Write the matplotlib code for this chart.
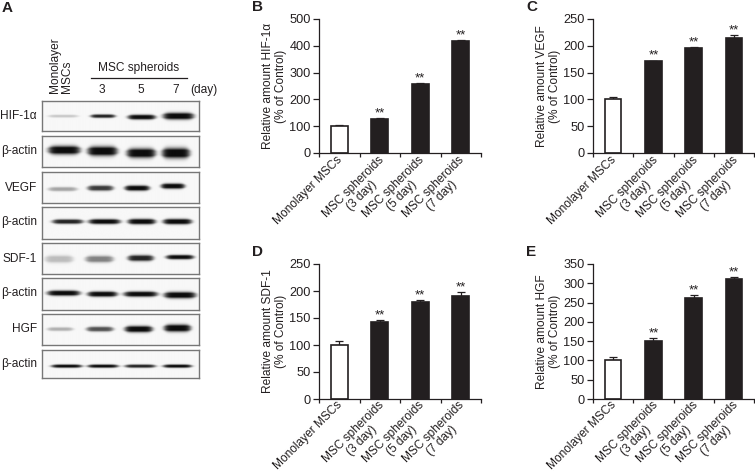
import numpy as np
import matplotlib
matplotlib.use("Agg")
import matplotlib.pyplot as plt

plt.rcParams['font.family'] = ['Liberation Sans', 'DejaVu Sans']

W, H = 755, 475
TEXT = '#231f20'
FS = 8.6

# blot panels: band extents are reference pixels, strength is 0-1 darkness
blot_labels = ['HIF-1α', 'β-actin', 'VEGF', 'β-actin', 'SDF-1', 'β-actin', 'HGF', 'β-actin']
blot_tops = [101, 136, 172, 207, 243, 278, 314, 350]
blot_bottoms = [131, 167, 203, 239, 274, 310, 345, 378]
label_y = [116, 151, 188, 222, 259, 293, 329, 364]
band_left = [[48, 90, 127, 162], [48, 87, 126, 161], [48, 87, 124, 160], [52, 88, 127, 162],
             [45, 85, 127, 165], [47, 87, 123, 163], [47, 86, 124, 163], [51, 87, 124, 162]]
band_right = [[78, 115, 155, 193], [80, 117, 155, 189], [77, 113, 149, 184], [83, 120, 155, 191],
              [73, 113, 153, 193], [80, 117, 157, 195], [73, 113, 152, 190], [82, 118, 155, 191]]
band_y = [[116, 116, 117, 116], [150, 151, 153, 153], [189, 188, 188, 186], [222, 222, 222, 222],
          [259, 259, 258, 257], [293, 294, 294, 295], [329, 329, 329, 328], [366, 366, 366, 366]]
band_thick = [[1.2, 1.5, 2.1, 3.0], [3.8, 4.2, 4.2, 4.6], [1.8, 2.3, 2.3, 2.3], [1.9, 2.1, 2.3, 2.3],
              [3.2, 2.9, 2.6, 1.9], [2.3, 2.3, 2.3, 2.8], [1.6, 2.1, 2.8, 3.2], [1.4, 1.4, 1.4, 1.4]]
band_strength = [[0.2, 0.9, 1.0, 1.0], [1.0, 1.0, 1.0, 1.0], [0.35, 0.8, 1.0, 1.0], [0.9, 1.0, 1.0, 1.0],
                 [0.25, 0.5, 0.9, 1.0], [1.0, 1.0, 1.0, 1.0], [0.3, 0.7, 1.0, 1.0], [1.0, 1.0, 0.9, 1.0]]
BLOT_LEFT, BLOT_RIGHT = 42, 199

# bar panels
categories = ['Monolayer MSCs', 'MSC spheroids\n(3 day)', 'MSC spheroids\n(5 day)', 'MSC spheroids\n(7 day)']
hif_values = [102, 128, 258, 418]
hif_err = [2, 3, 2, 3]
vegf_values = [101, 171, 195, 215]
vegf_err = [4, 1.5, 3, 5]
sdf_values = [100, 143, 180, 191]
sdf_err = [7, 4, 4, 7]
hgf_values = [100, 150, 263, 310]
hgf_err = [9, 7, 6, 6]
label_offsets = [17, 59, 99, 139]


def px_axes(fig, left, top, right, bottom):
    return fig.add_axes([left / W, 1 - bottom / H, (right - left) / W, (bottom - top) / H])


def draw_blot(fig, idx):
    top, bottom = blot_tops[idx], blot_bottoms[idx]
    ax = px_axes(fig, BLOT_LEFT, top, BLOT_RIGHT, bottom)
    xs = np.arange(BLOT_LEFT, BLOT_RIGHT, 0.25)
    ys = np.arange(top, bottom, 0.25)
    xx, yy = np.meshgrid(xs, ys)
    dark = np.zeros_like(xx)
    for x0, x1, y, th, s in zip(band_left[idx], band_right[idx], band_y[idx],
                                band_thick[idx], band_strength[idx]):
        cx = (x0 + x1) / 2
        half = (x1 - x0) / 2
        across = np.exp(-(np.abs(xx - cx) / half) ** 6)
        # bands are squashed towards the ends
        thick = th * (0.55 + 0.45 * across)
        dark += s * across * np.clip(1.5 * np.exp(-((yy - y) / thick) ** 2), 0, 1)
    img = 0.97 - 0.92 * np.clip(dark, 0, 1)
    ax.imshow(img, cmap='gray', vmin=0, vmax=1, aspect='auto', interpolation='bilinear',
              extent=[BLOT_LEFT, BLOT_RIGHT, bottom, top])
    ax.set_xticks([])
    ax.set_yticks([])
    for sp in ax.spines.values():
        sp.set_color('#777777')
        sp.set_linewidth(1.0)


def draw_bars(fig, box, values, err, ymax, step, name, label_top):
    ax = px_axes(fig, *box)
    centers = np.arange(len(values)) + 0.5
    colors = ['white', '#231f20', '#231f20', '#231f20']
    ax.bar(centers, values, width=0.41, color=colors, edgecolor='#231f20', linewidth=1.2, zorder=2)
    ax.errorbar(centers, values, yerr=[np.zeros(len(err)), err], fmt='none', ecolor='#231f20',
                elinewidth=0.9, capsize=3, capthick=0.9, zorder=1)
    for c, v, e in zip(centers[1:], values[1:], err[1:]):
        ax.annotate('**', (c, v + e), xytext=(0, -1), textcoords='offset points',
                    ha='center', va='bottom', fontsize=9.5, color=TEXT)
    ax.set_xlim(0, 4)
    ax.set_ylim(0, ymax)
    ax.set_xticks(range(5))
    ax.set_xticklabels([])
    ax.set_yticks(np.arange(0, ymax + 1, step))
    ax.tick_params(axis='y', labelsize=9.2, length=4, width=0.9, colors=TEXT, pad=2)
    ax.tick_params(axis='x', length=3, width=0.9, colors=TEXT)
    for s in ['top', 'right']:
        ax.spines[s].set_visible(False)
    for s in ['left', 'bottom']:
        ax.spines[s].set_color(TEXT)
        ax.spines[s].set_linewidth(0.9)
    ax.patch.set_alpha(0)
    ax.set_ylabel(f'Relative amount {name}\n(% of Control)', fontsize=FS, color=TEXT,
                  linespacing=1.05, labelpad=2)
    for off, cat in zip(label_offsets, categories):
        pg.text(box[0] + off, label_top, cat, rotation=45, rotation_mode='anchor', ha='right', va='top',
                multialignment='center', fontsize=FS, color=TEXT, linespacing=1.05)


fig = plt.figure(figsize=(W / 100, H / 100), dpi=100)
pg = fig.add_axes([0, 0, 1, 1])
pg.set_xlim(0, W)
pg.set_ylim(H, 0)
pg.axis('off')

for i in range(len(blot_labels)):
    draw_blot(fig, i)
    pg.text(37, label_y[i], blot_labels[i], ha='right', va='center', fontsize=FS, color=TEXT)

pg.text(61, 93, 'Monolayer\nMSCs', rotation=90, ha='center', va='bottom', multialignment='left',
        fontsize=FS, color=TEXT, linespacing=1.05)
pg.text(139, 68, 'MSC spheroids', ha='center', va='center', fontsize=FS, color=TEXT)
pg.plot([91, 187], [78, 78], color=TEXT, lw=0.9)
for x, t in zip([102, 141, 176, 204], ['3', '5', '7', '(day)']):
    pg.text(x, 90, t, ha='center', va='center', fontsize=FS, color=TEXT)

draw_bars(fig, (319, 19, 481, 153), hif_values, hif_err, 500, 100, 'HIF-1α', 154)
draw_bars(fig, (593, 19, 754, 153), vegf_values, vegf_err, 250, 50, 'VEGF', 154)
draw_bars(fig, (319, 264, 481, 399), sdf_values, sdf_err, 250, 50, 'SDF-1', 399)
draw_bars(fig, (593, 264, 754, 399), hgf_values, hgf_err, 350, 50, 'HGF', 399)

for x, y, t in [(2, 8, 'A'), (252, 7, 'B'), (526, 7, 'C'), (252, 252, 'D'), (526, 252, 'E')]:
    pg.text(x, y, t, ha='left', va='center', fontsize=11, fontweight='bold', color=TEXT)

fig.savefig('out.png', dpi=100)
